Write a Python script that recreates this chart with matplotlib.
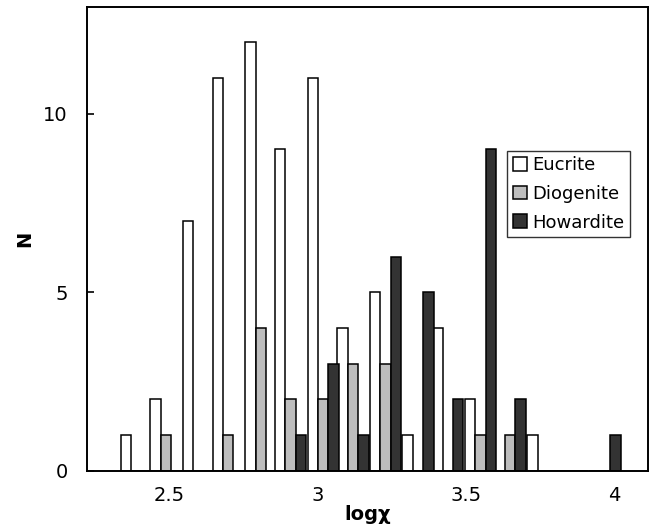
import numpy as np
from matplotlib import pyplot as plt

# bin centres in log chi
bin_centers = [2.39, 2.49, 2.60, 2.70, 2.81, 2.91, 3.02, 3.12,
               3.23, 3.34, 3.44, 3.55, 3.65, 3.76, 3.86, 3.97]
eucrite = [1, 2, 7, 11, 12, 9, 11, 4, 5, 1, 4, 2, 0, 1, 0, 0]
diogenite = [0, 1, 0, 1, 4, 2, 2, 3, 3, 0, 0, 1, 1, 0, 0, 0]
howardite = [0, 0, 0, 0, 0, 1, 3, 1, 6, 5, 2, 9, 2, 0, 0, 1]

x_ticks = [2.5, 3, 3.5, 4]
x_ticklabels = ["2.5", "3", "3.5", "4"]
y_ticks = [0, 5, 10]

fig = plt.figure(figsize=(6.49, 5.27), dpi=100)
ax = fig.add_axes([0.134, 0.1068, 0.8637, 0.8805])

w = 0.0352
x = np.array(bin_centers)
kw = dict(width=w, edgecolor="black", linewidth=1.1)
ax.bar(x - w, eucrite, color="white", label="Eucrite", **kw)
ax.bar(x, diogenite, color="#bdbdbd", label="Diogenite", **kw)
ax.bar(x + w, howardite, color="#333333", label="Howardite", **kw)

ax.set_xlim(2.224, 4.113)
ax.set_ylim(0, 13)
ax.set_xticks(x_ticks)
ax.set_xticklabels(x_ticklabels)
ax.set_yticks(y_ticks)
ax.tick_params(axis="x", length=0, pad=11, labelsize=14)
ax.tick_params(axis="y", direction="in", length=5, width=1.2, pad=14, labelsize=14)
for s in ax.spines.values():
    s.set_linewidth(1.4)

ax.set_xlabel("logχ", fontsize=14, fontweight="bold", labelpad=0)
ax.set_ylabel("N", fontsize=14, fontweight="bold", labelpad=6)

ax.legend(loc="upper left", bbox_to_anchor=(0.75, 0.69), frameon=True,
          fancybox=False, edgecolor="black", fontsize=13, handlelength=0.8,
          handleheight=0.8, handletextpad=0.3, borderpad=0.3, labelspacing=0.6,
          borderaxespad=0)

fig.savefig("out.png", dpi=100)
